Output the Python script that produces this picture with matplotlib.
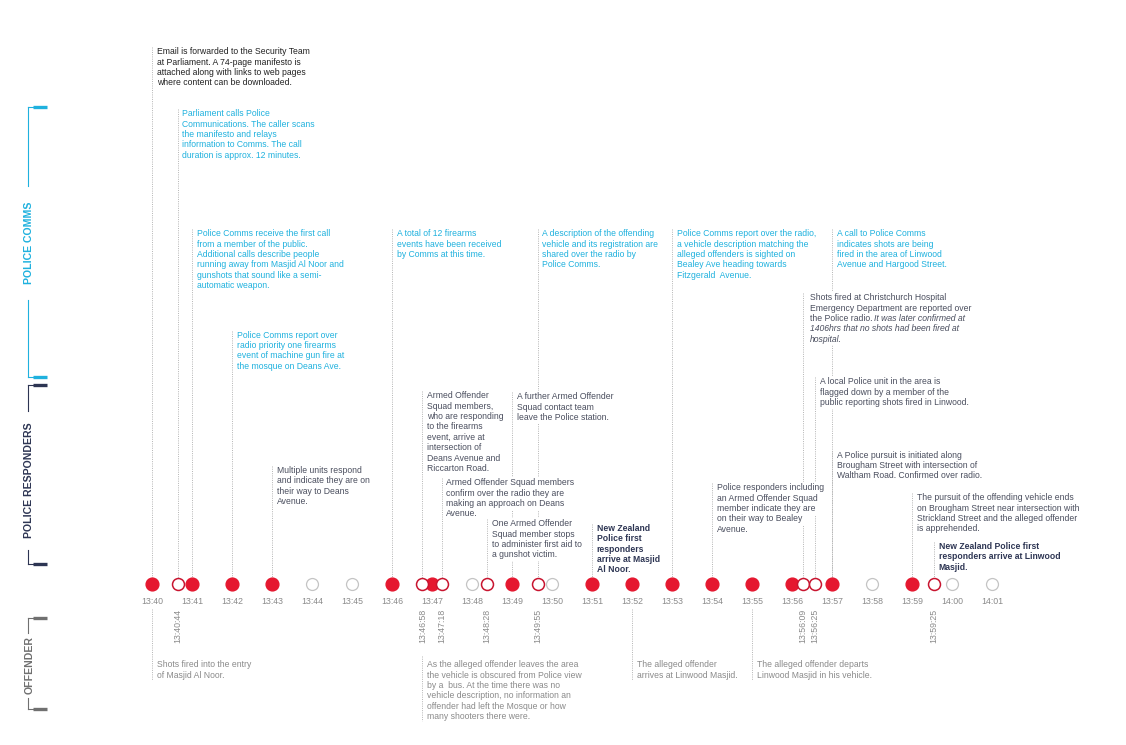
import matplotlib.pyplot as plt

plt.rcParams['font.family'] = ['Liberation Sans', 'DejaVu Sans']

# minute ticks along the timeline (minutes after 13:40)
tick_labels = ["13:40", "13:41", "13:42", "13:43", "13:44", "13:45", "13:46", "13:47",
               "13:48", "13:49", "13:50", "13:51", "13:52", "13:53", "13:54", "13:55",
               "13:56", "13:57", "13:58", "13:59", "14:00", "14:01"]
tick_pos = list(range(len(tick_labels)))

# minutes with a recorded event (filled red)
filled_pos = [0, 1, 2, 3, 6, 7, 9, 11, 12, 13, 14, 15, 16, 17, 19]
# minutes with nothing recorded (grey ring)
empty_pos = [4, 5, 8, 10, 18, 20, 21]
# events between minutes (red ring), placed as drawn in the picture
ring_labels = ["13:40:44", "13:46:58", "13:47:18", "13:48:28", "13:49:55",
               "13:56:09", "13:56:25", "13:59:25"]
ring_pos = [0.64, 6.76, 7.24, 8.38, 9.64, 16.28, 16.58, 19.55]

# police comms notes above the line: (position, lines)
comms_notes = [
    (0.64, ["Parliament calls Police", "Communications. The caller scans", "the manifesto and relays",
            "information to Comms. The call", "duration is approx. 12 minutes."]),
    (1, ["Police Comms receive the first call", "from a member of the public.",
         "Additional calls describe people", "running away from Masjid Al Noor and",
         "gunshots that sound like a semi-", "automatic weapon."]),
    (2, ["Police Comms report over", "radio priority one firearms", "event of machine gun fire at",
         "the mosque on Deans Ave."]),
    (6, ["A total of 12 firearms", "events have been received", "by Comms at this time."]),
    (9.64, ["A description of the offending", "vehicle and its registration are",
            "shared over the radio by", "Police Comms."]),
    (13, ["Police Comms report over the radio,", "a vehicle description matching the",
          "alleged offenders is sighted on", "Bealey Ave heading towards", "Fitzgerald  Avenue."]),
    (17, ["A call to Police Comms", "indicates shots are being", "fired in the area of Linwood",
          "Avenue and Hargood Street."]),
]
comms_tops = [110, 230, 331.5, 230, 230, 230, 230]

# police responder notes
resp_notes = [
    (0, ["Email is forwarded to the Security Team", "at Parliament. A 74-page manifesto is",
         "attached along with links to web pages", "where content can be downloaded."]),
    (3, ["Multiple units respond", "and indicate they are on", "their way to Deans", "Avenue."]),
    (6.76, ["Armed Offender", "Squad members,", "who are responding", "to the firearms",
            "event, arrive at", "intersection of", "Deans Avenue and", "Riccarton Road."]),
    (9, ["A further Armed Offender", "Squad contact team", "leave the Police station."]),
    (7.24, ["Armed Offender Squad members", "confirm over the radio they are",
            "making an approach on Deans", "Avenue."]),
    (8.38, ["One Armed Offender", "Squad member stops", "to administer first aid to",
            "a gunshot victim."]),
    (16.58, ["A local Police unit in the area is", "flagged down by a member of the",
             "public reporting shots fired in Linwood."]),
    (17, ["A Police pursuit is initiated along", "Brougham Street with intersection of",
          "Waltham Road. Confirmed over radio."]),
    (14, ["Police responders including", "an Armed Offender Squad", "member indicate they are",
          "on their way to Bealey", "Avenue."]),
    (19, ["The pursuit of the offending vehicle ends", "on Brougham Street near intersection with",
          "Strickland Street and the alleged offender", "is apprehended."]),
]
resp_tops = [48, 466.5, 392, 393, 479, 520, 378, 451.5, 484, 494]

bold_notes = [
    (11, ["New Zealand", "Police first", "responders", "arrive at Masjid", "Al Noor."]),
    (19.55, ["New Zealand Police first", "responders arrive at Linwood", "Masjid."]),
]
bold_tops = [524.5, 542.5]

hospital_pos = 16.28
hospital_plain = ["Shots fired at Christchurch Hospital", "Emergency Department are reported over",
                  "the Police radio. "]
hospital_italic = ["It was later confirmed at", "1406hrs that no shots had been fired at",
                   "hospital."]
hospital_top = 294

offender_notes = [
    (0, ["Shots fired into the entry", "of Masjid Al Noor."]),
    (6.76, ["As the alleged offender leaves the area", "the vehicle is obscured from Police view",
            "by a  bus. At the time there was no", "vehicle description, no information an",
            "offender had left the Mosque or how", "many shooters there were."]),
    (12, ["The alleged offender", "arrives at Linwood Masjid."]),
    (15, ["The alleged offender departs", "Linwood Masjid in his vehicle."]),
]
offender_top = 661

CYAN = "#1fb1de"
NAVY = "#2d3553"
DARK = "#4a4e5e"
GREY = "#8a8a8a"
RED = "#e5172f"
RING = "#c8142f"
DOT_LINE = "#b4b4b4"

W, H = 1126, 745
fig = plt.figure(figsize=(W / 100, H / 100), dpi=100)
ax = fig.add_axes([0, 0, 1, 1])
# 40 px per minute, 13:40 sits at x = 152 px
x0, ppm = 152, 40
ax.set_xlim(-x0 / ppm, (W - x0) / ppm)
ax.set_ylim(H, 0)
ax.axis("off")

y_axis = 584
fs = 6.2
pitch = 10.4      # px between baselines
cap = 6.2         # px from cap top to baseline

def vline(x, y1, y2):
    ax.plot([x, x], [y1, y2], color=DOT_LINE, lw=0.7, ls=(0, (1, 1.3)), zorder=1)

def put_line(x, base, s, color, dx, weight="normal", style="normal"):
    # white backing first, then the text itself
    kw = dict(xy=(x, base), xytext=(dx, 0), textcoords="offset points", va="baseline",
              ha="left", fontsize=fs, weight=weight, style=style)
    ax.annotate(s, color="white", zorder=2,
                bbox=dict(fc="white", ec="none", pad=1.2), **kw)
    return ax.annotate(s, color=color, zorder=3, **kw)

def note(x, top, lines, color, weight="normal", dx=3.3, style="normal"):
    out = []
    for i, s in enumerate(lines):
        out.append(put_line(x, top + cap + i * pitch, s, color, dx, weight, style))
    return out

for (p, t), top in zip(comms_notes, comms_tops):
    vline(p, top - 1, y_axis)
    note(p, top, t, CYAN)
for (p, t), top in zip(resp_notes, resp_tops):
    vline(p, top - 1, y_axis)
    note(p, top, t, "#222222" if top < 60 else DARK)
for (p, t), top in zip(bold_notes, bold_tops):
    vline(p, top - 1, y_axis)
    note(p, top, t, NAVY, weight="bold")

# hospital note: plain lines, then an italic run that starts mid-line
vline(hospital_pos, hospital_top - 1, y_axis)
plain = note(hospital_pos, hospital_top, hospital_plain, DARK, dx=4.6)
fig.canvas.draw()
r = fig.canvas.get_renderer()
bb = plain[2].get_window_extent(r)
xi = ax.transData.inverted().transform((bb.x1, bb.y0))[0]
put_line(xi, hospital_top + cap + 2 * pitch, hospital_italic[0], DARK, 0, style="italic")
for i, s in enumerate(hospital_italic[1:]):
    put_line(hospital_pos, hospital_top + cap + (3 + i) * pitch, s, DARK, 4.6, style="italic")

# offender notes below the line
for p, t in offender_notes:
    start = 656 if p == 6.76 else 609
    vline(p, start, offender_top + len(t) * pitch - 2)
    note(p, offender_top, t, GREY)

# dots
ax.plot(filled_pos, [y_axis] * len(filled_pos), "o", ms=9.2, mfc=RED, mec=RED, zorder=4)
ax.plot(empty_pos, [y_axis] * len(empty_pos), "o", ms=8.6, mfc="white", mec="#c4c4c4",
        mew=0.9, zorder=4)
ax.plot(ring_pos, [y_axis] * len(ring_pos), "o", ms=8.6, mfc="white", mec=RING,
        mew=1.1, zorder=5)

for p, lab in zip(tick_pos, tick_labels):
    ax.text(p, 602, lab, fontsize=6.3, color=GREY, ha="center", va="center", zorder=3)
for p, lab in zip(ring_pos, ring_labels):
    ax.text(p, 609, lab, fontsize=6.3, color=GREY, ha="center", va="top", rotation=90, zorder=3,
            bbox=dict(fc="white", ec="none", pad=0.5))

# lane brackets on the left
lanes = [("POLICE COMMS", CYAN, 107, 377, 186, 300),
         ("POLICE RESPONDERS", NAVY, 385, 564, 411, 550),
         ("OFFENDER", "#707070", 618, 709, 633, 698)]
bx = -x0 / ppm + 27.5 / ppm
tab0, tab1 = -x0 / ppm + 33 / ppm, -x0 / ppm + 47 / ppm
for name, col, top, bot, gap0, gap1 in lanes:
    ax.plot([bx, bx], [top, gap0], color=col, lw=0.8)
    ax.plot([bx, bx], [gap1, bot], color=col, lw=0.8)
    ax.plot([bx, tab0], [top, top], color=col, lw=0.8)
    ax.plot([bx, tab0], [bot, bot], color=col, lw=0.8)
    ax.plot([tab0, tab1], [top, top], color=col, lw=2.4, solid_capstyle="butt")
    ax.plot([tab0, tab1], [bot, bot], color=col, lw=2.4, solid_capstyle="butt")
    ax.text(bx + 2 / ppm, (gap0 + gap1) / 2, name, rotation=90, fontsize=7.6, weight="bold",
            color=col, ha="center", va="center")

fig.savefig("out.png", dpi=100)
